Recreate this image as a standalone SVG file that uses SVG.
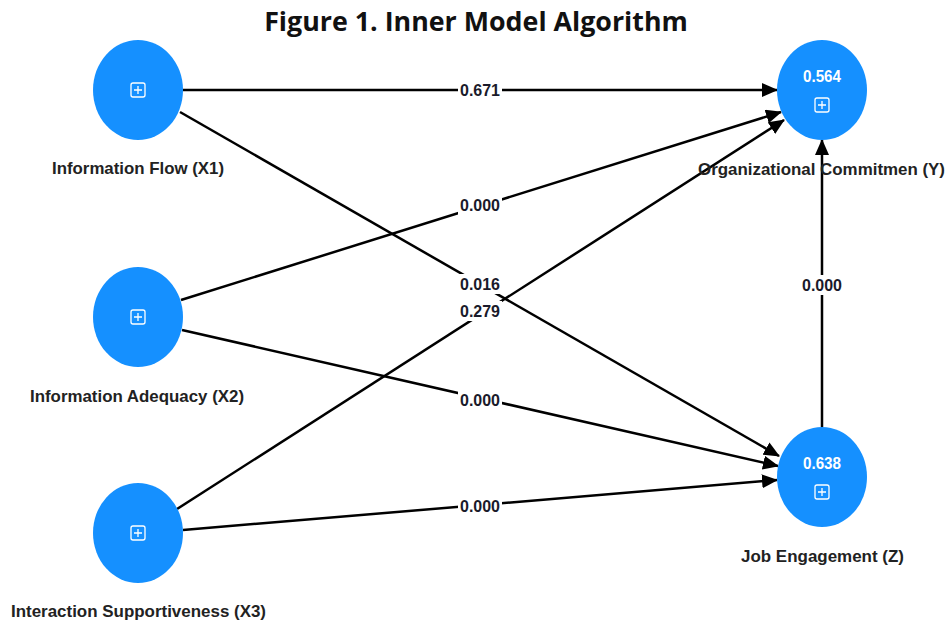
<svg xmlns="http://www.w3.org/2000/svg" width="947" height="625" viewBox="0 0 947 625">
<style>
.node{fill:#1590ff}
.lbl{font-family:"Liberation Sans",Arial,sans-serif;font-weight:bold;font-size:17px;fill:#222;text-anchor:middle}
.val{font-family:"Liberation Sans",Arial,sans-serif;font-weight:bold;font-size:16px;fill:#fff;text-anchor:middle}
.edge{stroke:#000;stroke-width:2.5;fill:none;marker-end:url(#ah)}
.elbl{font-family:"Liberation Sans",Arial,sans-serif;font-weight:bold;font-size:16px;fill:#1a1a2a;text-anchor:middle}
.bg{fill:#fff}
.icon{fill:none;stroke:#fff;stroke-width:1.3}
.title{font-family:"Open Sans","Noto Sans",sans-serif;font-weight:bold;font-size:26.8px;fill:#111;text-anchor:middle}
</style>
<defs>
<marker id="ah" markerWidth="16" markerHeight="14" refX="15" refY="7" orient="auto" markerUnits="userSpaceOnUse">
<path d="M0,0 L16,7 L0,14 Z" fill="#000"/>
</marker>
<g id="plus"><rect x="-7" y="-7" width="14" height="14" rx="2" class="icon"/><path d="M-4,0 H4 M0,-4 V4" class="icon"/></g>
</defs>
<rect width="947" height="625" fill="#fff"/>
<text x="476" y="31" class="title">Figure 1. Inner Model Algorithm</text>
<g id="connectors">
<line x1="183" y1="90" x2="777" y2="90" class="edge"/>
<line x1="180" y1="112" x2="779" y2="456" class="edge"/>
<line x1="181" y1="300" x2="781" y2="112" class="edge"/>
<line x1="182" y1="330" x2="778" y2="466" class="edge"/>
<line x1="177" y1="509" x2="784" y2="120" class="edge"/>
<line x1="183" y1="530" x2="777" y2="480" class="edge"/>
<line x1="822" y1="427" x2="822" y2="140" class="edge"/>
<rect x="458" y="80" width="44" height="20" class="bg"/><text x="480" y="96" class="elbl" textLength="40" lengthAdjust="spacingAndGlyphs">0.671</text>
<rect x="458" y="195" width="44" height="20" class="bg"/><text x="480" y="211" class="elbl" textLength="40" lengthAdjust="spacingAndGlyphs">0.000</text>
<rect x="458" y="274" width="44" height="20" class="bg"/><text x="480" y="290" class="elbl" textLength="40" lengthAdjust="spacingAndGlyphs">0.016</text>
<rect x="458" y="301" width="44" height="20" class="bg"/><text x="480" y="317" class="elbl" textLength="40" lengthAdjust="spacingAndGlyphs">0.279</text>
<rect x="458" y="390" width="44" height="20" class="bg"/><text x="480" y="406" class="elbl" textLength="40" lengthAdjust="spacingAndGlyphs">0.000</text>
<rect x="458" y="496" width="44" height="20" class="bg"/><text x="480" y="512" class="elbl" textLength="40" lengthAdjust="spacingAndGlyphs">0.000</text>
<rect x="800" y="275" width="44" height="20" class="bg"/><text x="822" y="291" class="elbl" textLength="40" lengthAdjust="spacingAndGlyphs">0.000</text>
</g>
<g id="x1"><ellipse cx="138" cy="90" rx="45" ry="50" class="node"/><use href="#plus" x="138" y="90"/><text x="138" y="174" class="lbl" textLength="172" lengthAdjust="spacingAndGlyphs">Information Flow (X1)</text></g>
<g id="x2"><ellipse cx="138" cy="317" rx="45" ry="50" class="node"/><use href="#plus" x="138" y="317"/><text x="137" y="402" class="lbl" textLength="214" lengthAdjust="spacingAndGlyphs">Information Adequacy (X2)</text></g>
<g id="x3"><ellipse cx="138" cy="533" rx="45" ry="50" class="node"/><use href="#plus" x="138" y="533"/><text x="138.5" y="617" class="lbl" textLength="255" lengthAdjust="spacingAndGlyphs">Interaction Supportiveness (X3)</text></g>
<g id="y"><ellipse cx="822" cy="90" rx="45" ry="50" class="node"/><text x="822" y="82" class="val" textLength="38" lengthAdjust="spacingAndGlyphs">0.564</text><use href="#plus" x="822" y="105"/><text x="821.5" y="175" class="lbl" textLength="247" lengthAdjust="spacingAndGlyphs">Organizational Commitmen (Y)</text></g>
<g id="z"><ellipse cx="822" cy="477" rx="45" ry="50" class="node"/><text x="822" y="469" class="val" textLength="38" lengthAdjust="spacingAndGlyphs">0.638</text><use href="#plus" x="822" y="492"/><text x="822.5" y="562" class="lbl" textLength="163" lengthAdjust="spacingAndGlyphs">Job Engagement (Z)</text></g>
</svg>
